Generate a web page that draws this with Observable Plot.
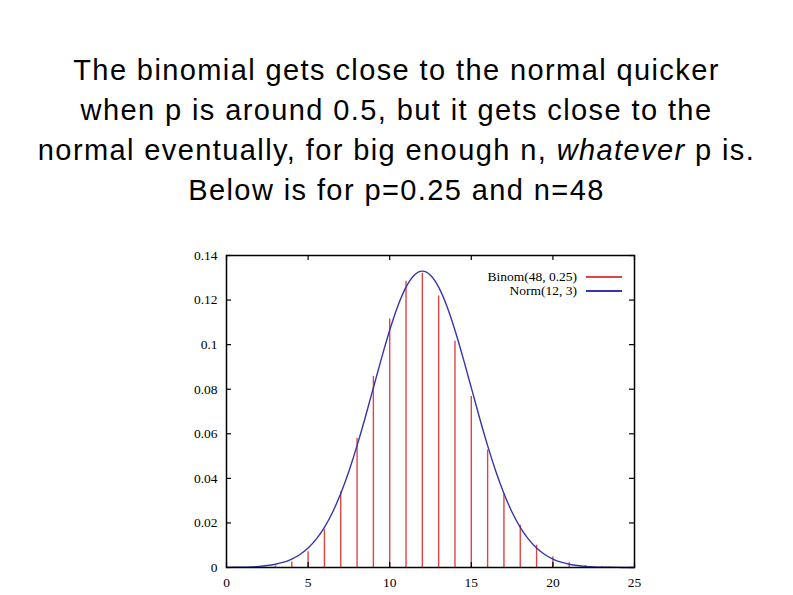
<!DOCTYPE html>
<html>
<head>
<meta charset="utf-8">
<script src="https://cdn.jsdelivr.net/npm/d3@7"></script>
<script src="https://cdn.jsdelivr.net/npm/@observablehq/plot@0.6"></script>
<style>
  html, body { margin: 0; padding: 0; background: white; }
  #page { position: relative; width: 793px; height: 595px; overflow: hidden; }
  #title { position: absolute; left: 0; top: 50px; width: 793px; text-align: center;
           font-family: "Liberation Sans", Arial, sans-serif; font-size: 29px; letter-spacing: 1.4px; line-height: 40px; color: #000; }
  #chart { position: absolute; left: 0; top: 210px; }
  #legend { position: absolute; left: 0; top: 0; width: 793px; height: 595px; font-family: "Liberation Serif", "Times New Roman", serif; font-size: 13.5px; line-height: 14px; }
  #legend .row { position: absolute; white-space: nowrap; display: flex; align-items: center; }
  #legend .sw { display: inline-block; width: 36px; margin-left: 9px; }
</style>
</head>
<body>
<div id="page">
  <div id="title">The binomial gets close to the normal quicker<br>when p is around 0.5, but it gets close to the<br>normal eventually, for big enough n, <i>whatever</i> p is.<br>Below is for p=0.25 and n=48</div>
  <div id="chart"></div>
  <div id="legend"></div>
</div>
<script>
// Binomial(48, 0.25) probabilities, k = 0..24
const binomK = [0,1,2,3,4,5,6,7,8,9,10,11,12,13,14,15,16,17,18,19,20,21,22,23,24];
const binomP = [0.000001,0.000016,0.000126,0.000645,0.002419,0.007094,0.016948,0.033896,0.057904,0.085783,
                0.111518,0.128415,0.13198,0.12183,0.10152,0.07671,0.05274,0.03309,0.018996,0.009998,
                0.004832,0.002147,0.000879,0.000331,0.000115];
// Normal(12, 3) curve, read at half-unit steps
const normX = [0,0.5,1,1.5,2,2.5,3,3.5,4,4.5,5,5.5,6,6.5,7,7.5,8,8.5,9,9.5,10,10.5,11,11.5,12,
               12.5,13,13.5,14,14.5,15,15.5,16,16.5,17,17.5,18,18.5,19,19.5,20,20.5,21,21.5,22,22.5,23,23.5,24,24.5,25];
const normY = [0.0000446,0.0000857,0.00016,0.000291,0.000514,0.000884,0.001477,0.002402,0.003799,0.005843,
               0.008738,0.012719,0.017997,0.02477,0.03316,0.04317,0.05467,0.06733,0.08066,0.09397,
               0.10648,0.11736,0.12579,0.13115,0.13298,0.13115,0.12579,0.11736,0.10648,0.09397,
               0.08066,0.06733,0.05467,0.04317,0.03316,0.02477,0.017997,0.012719,0.008738,0.005843,
               0.003799,0.002402,0.001477,0.000884,0.000514,0.000291,0.00016,0.0000857,0.0000446,0.0000226,0.0000111];
const xTicks = [0,5,10,15,20,25];
const xTickLabels = ["0","5","10","15","20","25"];
const yTicks = [0,0.02,0.04,0.06,0.08,0.1,0.12,0.14];
const yTickLabels = ["0","0.02","0.04","0.06","0.08","0.1","0.12","0.14"];
const seriesNames = ["Binom(48, 0.25)", "Norm(12, 3)"];
const seriesColors = ["#e04545", "#3535b0"];

const binom = binomK.map((k, i) => ({k, p: binomP[i]}));
const norm = normX.map((x, i) => ({x, y: normY[i]}));

const W = 793, H = 385;
const mL = 226, mR = 159, mT = 45, mB = 28;
const innerW = W - mL - mR, innerH = H - mT - mB;
const tick = 5;

const plot = Plot.plot({
  width: W, height: H,
  marginLeft: mL, marginRight: mR, marginTop: mT, marginBottom: mB,
  style: {fontFamily: "'Liberation Serif', 'Times New Roman', serif", fontSize: "13.5px", background: "white", color: "#000", overflow: "visible"},
  x: {domain: [0, 25], axis: null},
  y: {domain: [0, 0.14], axis: null},
  marks: [
    Plot.ruleX(binom, {x: "k", y1: 0, y2: "p", stroke: seriesColors[0], strokeWidth: 1.4}),
    Plot.line(norm, {x: "x", y: "y", stroke: seriesColors[1], strokeWidth: 1.4, curve: "natural"}),
    // inward ticks on all four sides
    Plot.tickX(xTicks, {x: d => d, insetTop: innerH - tick, stroke: "#000", strokeWidth: 1.2}),
    Plot.tickX(xTicks, {x: d => d, insetBottom: innerH - tick, stroke: "#000", strokeWidth: 1.2}),
    Plot.tickY(yTicks, {y: d => d, insetRight: innerW - tick, stroke: "#000", strokeWidth: 1.2}),
    Plot.tickY(yTicks, {y: d => d, insetLeft: innerW - tick, stroke: "#000", strokeWidth: 1.2}),
    Plot.axisX(xTicks, {tickSize: 0, tickPadding: 10, tickFormat: (d) => xTickLabels[xTicks.indexOf(d)]}),
    Plot.axisY(yTicks, {tickSize: 0, tickPadding: 9, tickFormat: (d) => yTickLabels[yTicks.indexOf(d)]}),
    Plot.frame({stroke: "#000", strokeWidth: 1.5})
  ]
});
document.getElementById("chart").appendChild(plot);

// legend inside plot, top-right
const leg = document.getElementById("legend");
seriesNames.forEach((name, i) => {
  const row = document.createElement("div");
  row.className = "row";
  row.style.right = (793 - 622) + "px";
  row.style.top = (270 + i * 14) + "px";
  const t = document.createElement("span");
  t.textContent = name;
  const sw = document.createElement("span");
  sw.className = "sw";
  sw.style.height = (i === 0 ? 1.2 : 2) + "px";
  sw.style.background = seriesColors[i];
  row.appendChild(t);
  row.appendChild(sw);
  leg.appendChild(row);
});
</script>
</body>
</html>
